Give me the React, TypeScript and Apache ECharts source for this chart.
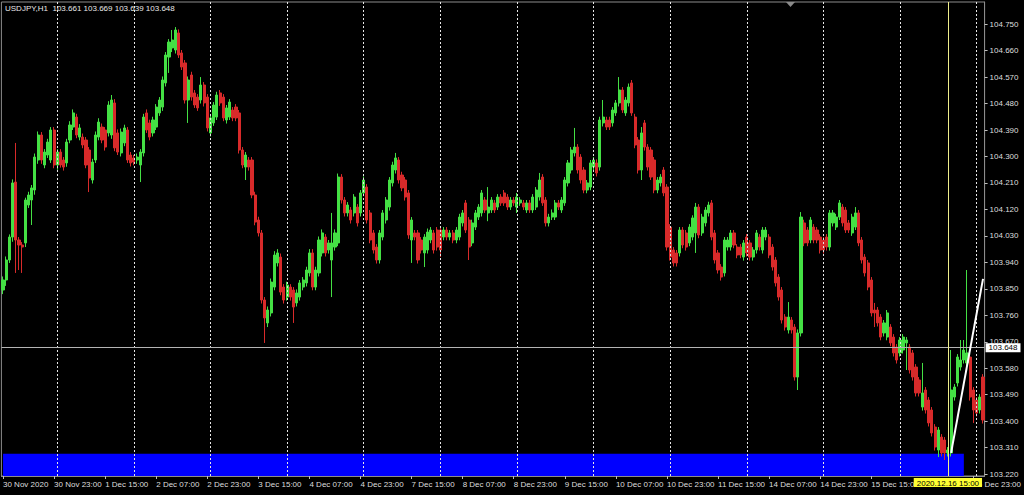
import React, { useEffect, useRef } from "react";
import * as echarts from "echarts";

// ---- DATA ----
const SYMBOL = "USDJPY,H1";
const HEADER_OHLC = ["103.661", "103.669", "103.639", "103.648"];

// trading days shown (first day starts at 07:00)
const TRADING_DAYS: [string, number][] = [
  ["30 Nov", 7], ["1 Dec", 0], ["2 Dec", 0], ["3 Dec", 0], ["4 Dec", 0],
  ["7 Dec", 0], ["8 Dec", 0], ["9 Dec", 0], ["10 Dec", 0], ["11 Dec", 0],
  ["14 Dec", 0], ["15 Dec", 0], ["16 Dec", 0], ["17 Dec", 0],
];
const FIRST_LABEL = "30 Nov 2020";

// [open, close, low, high]
const CANDLES: number[][] = [
  [103.846, 103.880, 103.832, 103.892], [103.880, 103.948, 103.860, 103.960], [103.948, 104.026, 103.938, 104.035],
  [104.026, 104.210, 104.010, 104.222], [104.213, 104.016, 103.904, 104.346], [104.016, 103.999, 103.914, 104.026],
  [103.999, 103.992, 103.904, 104.009], [104.006, 104.152, 103.992, 104.160], [104.135, 104.169, 104.125, 104.180],
  [104.152, 104.193, 104.067, 104.203], [104.186, 104.298, 104.170, 104.310], [104.288, 104.373, 104.275, 104.385],
  [104.373, 104.288, 104.275, 104.383], [104.271, 104.315, 104.260, 104.325], [104.305, 104.349, 104.295, 104.360],
  [104.288, 104.390, 104.278, 104.400], [104.390, 104.271, 104.260, 104.400], [104.271, 104.315, 104.255, 104.325],
  [104.315, 104.271, 104.262, 104.325], [104.288, 104.264, 104.252, 104.298], [104.278, 104.349, 104.265, 104.360],
  [104.356, 104.407, 104.345, 104.420], [104.400, 104.448, 104.390, 104.460], [104.434, 104.373, 104.362, 104.445],
  [104.366, 104.397, 104.355, 104.410], [104.366, 104.339, 104.328, 104.378], [104.356, 104.271, 104.260, 104.366],
  [104.322, 104.227, 104.179, 104.332], [104.220, 104.281, 104.208, 104.292], [104.288, 104.373, 104.278, 104.385],
  [104.366, 104.417, 104.355, 104.430], [104.400, 104.356, 104.345, 104.412], [104.390, 104.332, 104.320, 104.400],
  [104.380, 104.475, 104.368, 104.488], [104.373, 104.492, 104.360, 104.509], [104.482, 104.329, 104.318, 104.495],
  [104.380, 104.315, 104.305, 104.392], [104.312, 104.383, 104.300, 104.395], [104.346, 104.397, 104.335, 104.408],
  [104.390, 104.288, 104.278, 104.400], [104.305, 104.278, 104.266, 104.315], [104.295, 104.281, 104.270, 104.305],
  [104.288, 104.298, 104.275, 104.310], [104.271, 104.315, 104.213, 104.325], [104.312, 104.434, 104.300, 104.445],
  [104.448, 104.390, 104.380, 104.460], [104.414, 104.366, 104.355, 104.425], [104.380, 104.424, 104.368, 104.435],
  [104.400, 104.468, 104.390, 104.478], [104.448, 104.492, 104.438, 104.502], [104.468, 104.560, 104.455, 104.572],
  [104.550, 104.645, 104.538, 104.655], [104.638, 104.689, 104.584, 104.699], [104.669, 104.696, 104.655, 104.730],
  [104.662, 104.730, 104.650, 104.740], [104.720, 104.645, 104.635, 104.732], [104.652, 104.604, 104.594, 104.662],
  [104.618, 104.492, 104.480, 104.628], [104.492, 104.560, 104.414, 104.572], [104.577, 104.502, 104.490, 104.588],
  [104.516, 104.475, 104.465, 104.526], [104.502, 104.465, 104.455, 104.512], [104.492, 104.543, 104.480, 104.570],
  [104.543, 104.482, 104.470, 104.553], [104.502, 104.397, 104.385, 104.512], [104.380, 104.431, 104.368, 104.442],
  [104.414, 104.475, 104.404, 104.485], [104.434, 104.509, 104.424, 104.520], [104.516, 104.482, 104.472, 104.526],
  [104.502, 104.431, 104.420, 104.512], [104.424, 104.465, 104.412, 104.475], [104.434, 104.485, 104.424, 104.495],
  [104.458, 104.431, 104.420, 104.468], [104.468, 104.431, 104.420, 104.478], [104.448, 104.322, 104.310, 104.458],
  [104.322, 104.271, 104.260, 104.332], [104.264, 104.305, 104.220, 104.315], [104.288, 104.264, 104.252, 104.298],
  [104.288, 104.169, 104.158, 104.298], [104.169, 104.077, 104.066, 104.180], [104.084, 104.040, 104.028, 104.095],
  [104.040, 103.812, 103.800, 104.050], [103.812, 103.751, 103.666, 103.822], [103.734, 103.778, 103.720, 103.790],
  [103.768, 103.873, 103.756, 103.885], [103.856, 103.965, 103.845, 103.978], [103.938, 103.972, 103.926, 103.985],
  [103.958, 103.839, 103.828, 103.970], [103.856, 103.812, 103.800, 103.866], [103.822, 103.863, 103.810, 103.874],
  [103.856, 103.822, 103.810, 103.866], [103.846, 103.788, 103.734, 103.856], [103.802, 103.836, 103.790, 103.848],
  [103.822, 103.870, 103.810, 103.880], [103.856, 103.880, 103.845, 103.890], [103.870, 103.914, 103.858, 103.925],
  [103.904, 103.972, 103.892, 103.985], [103.972, 103.856, 103.845, 103.985], [103.856, 103.914, 103.845, 103.925],
  [103.904, 104.016, 103.892, 104.028], [103.972, 104.040, 103.960, 104.052], [104.026, 103.972, 103.960, 104.036],
  [103.982, 104.006, 103.970, 104.016], [103.948, 104.006, 103.822, 104.108], [103.992, 104.040, 103.980, 104.052],
  [104.006, 104.230, 103.995, 104.242], [104.230, 104.152, 104.140, 104.240], [104.152, 104.108, 104.096, 104.162],
  [104.108, 104.135, 104.096, 104.145], [104.118, 104.084, 104.072, 104.128], [104.108, 104.162, 104.096, 104.172],
  [104.128, 104.074, 104.062, 104.138], [104.108, 104.176, 104.096, 104.186], [104.176, 104.220, 104.165, 104.232],
  [104.196, 104.084, 104.072, 104.206], [104.108, 104.016, 104.005, 104.118], [104.040, 103.982, 103.970, 104.050],
  [103.992, 103.948, 103.936, 104.002], [103.948, 104.040, 103.936, 104.050], [104.026, 104.108, 104.015, 104.118],
  [104.084, 104.152, 104.072, 104.162], [104.128, 104.220, 104.116, 104.230], [104.210, 104.271, 104.198, 104.282],
  [104.254, 104.295, 104.242, 104.312], [104.288, 104.220, 104.208, 104.298], [104.237, 104.193, 104.182, 104.248],
  [104.220, 104.162, 104.150, 104.230], [104.176, 104.033, 104.020, 104.186], [104.016, 104.084, 103.938, 104.094],
  [104.040, 104.026, 104.015, 104.050], [104.040, 103.948, 103.936, 104.050], [104.016, 103.982, 103.970, 104.026],
  [103.972, 104.026, 103.924, 104.036], [103.982, 104.043, 103.970, 104.055], [104.016, 104.050, 104.005, 104.060],
  [104.040, 103.982, 103.970, 104.050], [104.050, 103.992, 103.980, 104.060], [104.050, 103.982, 103.958, 104.060],
  [104.026, 104.050, 104.015, 104.060], [104.050, 104.026, 104.015, 104.060], [104.026, 104.040, 104.015, 104.050],
  [104.040, 104.016, 104.005, 104.050], [104.016, 104.050, 104.005, 104.060], [104.026, 104.094, 104.015, 104.105],
  [104.074, 104.108, 104.062, 104.118], [104.142, 104.050, 104.040, 104.152], [104.084, 103.992, 103.948, 104.094],
  [104.006, 104.074, 103.995, 104.085], [104.060, 104.108, 104.050, 104.118], [104.094, 104.128, 104.084, 104.138],
  [104.108, 104.176, 104.096, 104.186], [104.152, 104.118, 104.108, 104.162], [104.108, 104.128, 104.080, 104.196],
  [104.118, 104.152, 104.108, 104.162], [104.142, 104.118, 104.108, 104.152], [104.128, 104.162, 104.118, 104.172],
  [104.162, 104.142, 104.132, 104.172], [104.176, 104.142, 104.132, 104.186], [104.162, 104.128, 104.118, 104.172],
  [104.128, 104.152, 104.118, 104.162], [104.152, 104.142, 104.132, 104.162], [104.128, 104.162, 104.108, 104.176],
  [104.142, 104.152, 104.132, 104.162], [104.142, 104.128, 104.118, 104.152], [104.118, 104.142, 104.108, 104.152],
  [104.142, 104.118, 104.108, 104.152], [104.118, 104.162, 104.108, 104.172], [104.128, 104.186, 104.118, 104.196],
  [104.162, 104.220, 104.150, 104.244], [104.230, 104.142, 104.132, 104.240], [104.152, 104.074, 104.062, 104.162],
  [104.074, 104.094, 104.062, 104.105], [104.094, 104.108, 104.084, 104.120], [104.094, 104.142, 104.084, 104.152],
  [104.142, 104.128, 104.118, 104.152], [104.118, 104.152, 104.108, 104.162], [104.142, 104.220, 104.132, 104.230],
  [104.210, 104.278, 104.198, 104.288], [104.254, 104.322, 104.242, 104.332], [104.312, 104.332, 104.300, 104.397],
  [104.332, 104.254, 104.242, 104.342], [104.298, 104.220, 104.208, 104.308], [104.254, 104.186, 104.175, 104.264],
  [104.186, 104.210, 104.175, 104.220], [104.196, 104.278, 104.185, 104.288], [104.264, 104.288, 104.252, 104.298],
  [104.278, 104.244, 104.232, 104.290], [104.264, 104.424, 104.252, 104.435], [104.414, 104.434, 104.402, 104.492],
  [104.424, 104.400, 104.390, 104.435], [104.424, 104.400, 104.390, 104.435], [104.414, 104.458, 104.402, 104.468],
  [104.448, 104.482, 104.438, 104.492], [104.482, 104.526, 104.470, 104.570], [104.526, 104.458, 104.448, 104.536],
  [104.448, 104.492, 104.438, 104.502], [104.482, 104.536, 104.470, 104.548], [104.550, 104.448, 104.438, 104.560],
  [104.434, 104.339, 104.328, 104.445], [104.356, 104.254, 104.242, 104.366], [104.254, 104.380, 104.220, 104.400],
  [104.414, 104.332, 104.320, 104.424], [104.332, 104.264, 104.252, 104.342], [104.322, 104.230, 104.220, 104.332],
  [104.288, 104.186, 104.175, 104.298], [104.186, 104.220, 104.175, 104.230], [104.210, 104.230, 104.198, 104.240],
  [104.254, 104.176, 104.165, 104.264], [104.196, 103.992, 103.980, 104.206], [104.060, 103.958, 103.946, 104.070],
  [103.982, 103.938, 103.926, 103.992], [103.972, 103.938, 103.926, 103.982], [103.972, 104.050, 103.960, 104.060],
  [104.050, 103.999, 103.988, 104.060], [104.040, 103.992, 103.980, 104.050], [104.006, 104.060, 103.995, 104.070],
  [104.026, 104.091, 104.015, 104.100], [104.040, 104.128, 103.972, 104.142], [104.128, 104.033, 104.022, 104.138],
  [104.040, 104.094, 104.030, 104.105], [104.074, 104.118, 104.062, 104.128], [104.108, 104.135, 104.096, 104.146],
  [104.142, 104.026, 104.015, 104.152], [104.040, 103.948, 103.936, 104.050], [103.972, 103.914, 103.902, 103.982],
  [103.924, 103.890, 103.878, 103.934], [103.904, 104.016, 103.892, 104.026], [103.992, 104.016, 103.980, 104.026],
  [103.992, 104.040, 103.980, 104.050], [104.040, 103.999, 103.988, 104.050], [103.992, 103.965, 103.954, 104.002],
  [103.992, 103.965, 103.954, 104.002], [103.958, 104.006, 103.946, 104.016], [104.026, 103.972, 103.960, 104.036],
  [104.006, 103.958, 103.946, 104.016], [103.958, 103.982, 103.946, 103.992], [103.982, 104.040, 103.970, 104.050],
  [104.026, 103.992, 103.980, 104.036], [103.982, 104.050, 103.970, 104.060], [104.026, 104.050, 104.015, 104.060],
  [104.026, 103.965, 103.954, 104.036], [103.992, 103.924, 103.912, 104.002], [103.948, 103.870, 103.858, 103.958],
  [103.890, 103.822, 103.810, 103.900], [103.846, 103.744, 103.732, 103.856], [103.754, 103.720, 103.708, 103.764],
  [103.710, 103.754, 103.698, 103.805], [103.744, 103.710, 103.698, 103.754], [103.720, 103.550, 103.538, 103.730],
  [103.550, 103.700, 103.506, 103.712], [103.700, 104.094, 103.688, 104.111], [104.074, 104.006, 103.995, 104.085],
  [104.050, 104.006, 103.995, 104.060], [104.016, 104.084, 104.005, 104.094], [104.060, 104.016, 104.005, 104.070],
  [104.050, 104.016, 104.005, 104.060], [104.026, 103.982, 103.970, 104.036], [104.016, 103.982, 103.970, 104.026],
  [104.026, 103.992, 103.980, 104.036], [103.992, 104.108, 103.980, 104.118], [104.074, 104.108, 104.062, 104.118],
  [104.060, 104.094, 104.050, 104.105], [104.094, 104.142, 104.084, 104.152], [104.128, 104.074, 104.062, 104.138],
  [104.118, 104.050, 104.040, 104.128], [104.074, 104.050, 104.040, 104.084], [104.040, 104.094, 104.030, 104.105],
  [104.060, 104.108, 104.050, 104.128], [104.108, 104.006, 103.995, 104.118], [104.016, 103.948, 103.936, 104.026],
  [103.958, 103.904, 103.892, 103.968], [103.938, 103.856, 103.845, 103.948], [103.880, 103.768, 103.756, 103.890],
  [103.778, 103.768, 103.720, 103.802], [103.778, 103.734, 103.722, 103.788], [103.754, 103.686, 103.675, 103.764],
  [103.700, 103.734, 103.688, 103.744], [103.686, 103.768, 103.675, 103.778], [103.720, 103.666, 103.655, 103.730],
  [103.686, 103.632, 103.620, 103.696], [103.652, 103.608, 103.596, 103.662], [103.632, 103.676, 103.620, 103.686],
  [103.642, 103.686, 103.630, 103.696], [103.666, 103.676, 103.574, 103.686], [103.652, 103.574, 103.562, 103.662],
  [103.632, 103.550, 103.538, 103.642], [103.584, 103.496, 103.484, 103.594], [103.540, 103.496, 103.484, 103.550],
  [103.448, 103.496, 103.436, 103.598], [103.506, 103.438, 103.426, 103.516], [103.472, 103.394, 103.382, 103.482],
  [103.438, 103.360, 103.348, 103.448], [103.380, 103.312, 103.300, 103.390], [103.302, 103.370, 103.278, 103.380],
  [103.346, 103.292, 103.280, 103.356], [103.336, 103.292, 103.268, 103.346], [103.292, 103.302, 103.280, 103.312],
  [103.292, 103.506, 103.280, 103.642], [103.482, 103.516, 103.470, 103.526], [103.530, 103.618, 103.518, 103.628],
  [103.584, 103.608, 103.572, 103.676], [103.608, 103.642, 103.596, 103.676], [103.598, 103.632, 103.586, 103.914],
  [103.618, 103.482, 103.470, 103.628], [103.506, 103.438, 103.394, 103.516], [103.472, 103.428, 103.416, 103.482],
  [103.438, 103.482, 103.426, 103.492], [103.550, 103.404, 103.392, 103.560],
];

const Y_TICKS = [
  103.22, 103.31, 103.4, 103.49, 103.58, 103.67, 103.76, 103.85, 103.94,
  104.03, 104.12, 104.21, 104.3, 104.39, 104.48, 104.57, 104.66, 104.75,
];
const Y_MIN = 103.2136;
const Y_MAX = 104.8252;
const X_LABEL_STEP = 16;
const HIDDEN_LABELS = [288];

const CURRENT_PRICE = 103.648;
const VLINE_INDEX = 296;
const VLINE_LABEL = "2020.12.16 15:00";
const TREND_LINE: [number, number][] = [[297, 103.292], [307, 103.884]];
const ZONE = { fromIndex: 0, toIndex: 301, top: 103.289 };

const BULL = "#44e044";
const BEAR = "#d82a2a";
const FONT = "Liberation Sans";

function buildCategories(n: number): string[] {
  const out: string[] = [];
  for (const [day, start] of TRADING_DAYS) {
    for (let h = start; h < 24 && out.length < n; h++) {
      out.push(`${day} ${String(h).padStart(2, "0")}:00`);
    }
  }
  return out;
}

export default function App() {
  const ref = useRef<HTMLDivElement>(null);
  useEffect(() => {
    if (!ref.current) return;
    const chart = echarts.init(ref.current, undefined, { renderer: "svg" });
    const cats = buildCategories(CANDLES.length);
    const separators = cats
      .map((c, i) => (c.endsWith(" 00:00") ? i : -1))
      .filter((i) => i > 0)
      .map((i) => ({ xAxis: cats[i] }));
    const labelInterval = (idx: number) =>
      idx % X_LABEL_STEP === 0 && !HIDDEN_LABELS.includes(idx);

    chart.setOption({
      animation: false,
      backgroundColor: "#000",
      grid: {
        left: 0.4, right: 38, top: 2, bottom: 19,
        show: true, borderColor: "#8c8c8c", borderWidth: 1,
        backgroundColor: "transparent",
      },
      graphic: [
        {
          type: "text", left: 5, top: 4, z: 50,
          style: {
            text: `${SYMBOL}  ${HEADER_OHLC.join(" ")}`,
            fill: "#e8e8e8", font: `8px '${FONT}'`,
          },
        },
        {
          type: "polygon", z: 50,
          shape: { points: [[786, 2], [795, 2], [790.5, 7]] },
          style: { fill: "#8a8a8a" },
        },
      ],
      xAxis: {
        type: "category",
        data: cats,
        boundaryGap: true,
        axisLine: { show: true, lineStyle: { color: "#8c8c8c" } },
        axisTick: {
          show: true, alignWithLabel: true, interval: labelInterval,
          length: 3, lineStyle: { color: "#bdbdbd" },
        },
        axisLabel: {
          interval: labelInterval,
          formatter: (v: string, i: number) => (i === 0 ? FIRST_LABEL : v),
          color: "#dedede", fontSize: 8, fontFamily: FONT,
          align: "left", margin: 4,
        },
        splitLine: { show: false },
      },
      yAxis: {
        type: "value",
        position: "right",
        min: Y_MIN, max: Y_MAX,
        axisLine: { show: true, lineStyle: { color: "#8c8c8c" } },
        axisTick: { show: true, customValues: Y_TICKS, length: 3, lineStyle: { color: "#bdbdbd" } },
        axisLabel: {
          customValues: Y_TICKS,
          formatter: (v: number) => v.toFixed(3),
          color: "#dedede", fontSize: 8, fontFamily: FONT, margin: 5,
        },
        splitLine: { show: false },
      },
      series: [
        {
          type: "line",
          data: [],
          z: 1,
          silent: true,
          markArea: {
            silent: true,
            itemStyle: { color: "#0000ff", opacity: 1 },
            data: [[
              { xAxis: cats[ZONE.fromIndex], yAxis: ZONE.top },
              { xAxis: cats[ZONE.toIndex], yAxis: Y_MIN },
            ]],
          },
          markLine: {
            silent: true,
            symbol: "none",
            label: { show: false },
            lineStyle: { color: "#e6e6e6", type: [2, 2], width: 1 },
            data: separators,
          },
        },
        {
          type: "candlestick",
          data: CANDLES,
          z: 3,
          barWidth: 2.6,
          itemStyle: {
            color: BULL, color0: BEAR,
            borderColor: BULL, borderColor0: BEAR, borderWidth: 1,
          },
        },
        {
          type: "line",
          data: [],
          z: 5,
          silent: true,
          markLine: {
            silent: true,
            symbol: "none",
            data: [
              {
                yAxis: CURRENT_PRICE,
                lineStyle: { color: "#b4b4b4", type: "solid", width: 1 },
                label: {
                  show: true, position: "end", distance: 1,
                  formatter: CURRENT_PRICE.toFixed(3),
                  color: "#000", backgroundColor: "#ffffff",
                  padding: [1, 3, 0, 3], fontSize: 8, fontFamily: FONT,
                },
              },
              {
                xAxis: cats[VLINE_INDEX],
                lineStyle: { color: "#eeee8c", type: "solid", width: 1 },
                label: {
                  show: true, position: "start", distance: 2,
                  formatter: VLINE_LABEL,
                  color: "#000", backgroundColor: "#ffff33",
                  padding: [1, 3, 0, 3], fontSize: 8, fontFamily: FONT,
                },
              },
              [
                {
                  coord: [cats[TREND_LINE[0][0]], TREND_LINE[0][1]],
                  lineStyle: { color: "#ffffff", type: "solid", width: 2 },
                  label: { show: false },
                },
                { coord: [cats[TREND_LINE[1][0]], TREND_LINE[1][1]] },
              ],
            ],
          },
        },
      ],
    });
    return () => chart.dispose();
  }, []);

  return (
    <div
      ref={ref}
      style={{ position: "fixed", left: 0, top: 0, width: 1024, height: 495, background: "#000" }}
    />
  );
}
